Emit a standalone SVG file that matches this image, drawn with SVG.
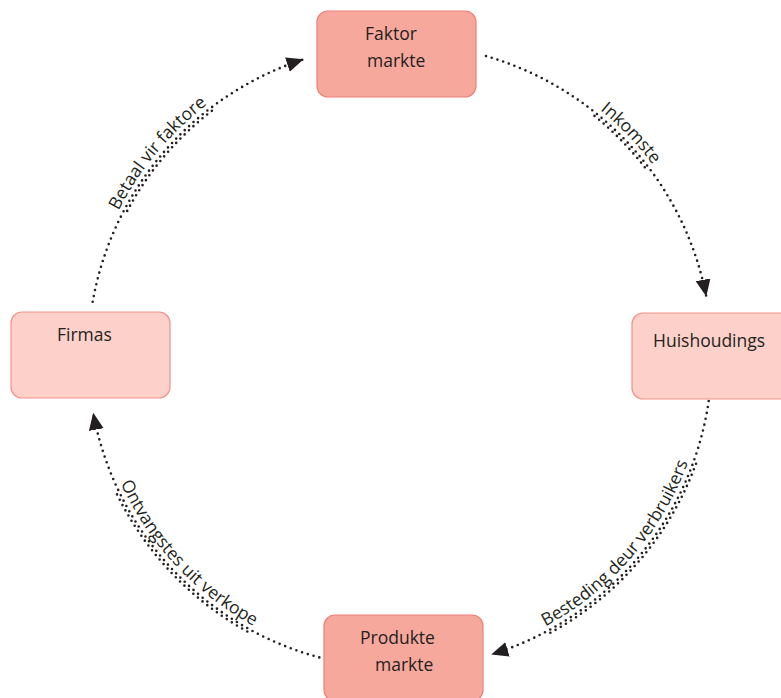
<svg xmlns="http://www.w3.org/2000/svg" width="781" height="698" viewBox="0 0 781 698">
<style>
.node-a{fill:#f7a89c;stroke:#ef8078;stroke-width:1.2}
.node-b{fill:#fdd0c9;stroke:#f2918a;stroke-width:1.2}
.lbl{font-family:"Open Sans","Noto Sans",sans-serif;font-size:17.5px;fill:#231f20}
.dots{fill:none;stroke:#231f20;stroke-width:2.6;stroke-linecap:round;stroke-dasharray:0 6}
.edge-lbl{font-family:"Open Sans","Noto Sans",sans-serif;font-size:17.5px;fill:#231f20}
</style>
<defs>
<marker id="arr" markerUnits="userSpaceOnUse" markerWidth="18" markerHeight="16" refX="17" refY="7.5" orient="auto">
<path d="M0,0 L17,7.5 L0,15 z" fill="#231f20"/>
</marker>
<path id="t1" d="M 93.8 275.0 A 317 317 0 0 1 266.0 68.7"/>
<path id="t2" d="M 539.0 71.1 A 317 317 0 0 1 689.6 227.1"/>
<path id="t3" d="M 499.9 646.3 A 307 307 0 0 0 701.4 414.6"/>
<path id="t4" d="M 103.5 435.5 A 307 307 0 0 0 300.0 646.3"/>
</defs>
<g id="connectors">
<path class="dots" d="M 92.7 301.8 A 312 312 0 0 1 303.6 59.3" marker-end="url(#arr)"/>
<path class="dots" d="M 127.2 210.9 A 309 309 0 0 1 214.0 109.2"/>
<path class="dots" d="M 486.0 56.1 A 312 312 0 0 1 706.3 296.5" marker-end="url(#arr)"/>
<path class="dots" d="M 594.5 115.9 A 309 309 0 0 1 646.8 170.0"/>
<path class="dots" d="M 710.8 383.2 A 312 312 0 0 1 491.2 654.4" marker-end="url(#arr)"/>
<path class="dots" d="M 696.0 463.7 A 315 315 0 0 1 547.9 634.1"/>
<path class="dots" d="M 319.3 657.4 A 312 312 0 0 1 93.2 412.8" marker-end="url(#arr)"/>
<path class="dots" d="M 247.3 631.5 A 315 315 0 0 1 114.5 489.1"/>
<text class="edge-lbl"><textPath href="#t1" startOffset="50%" text-anchor="middle">Betaal vir faktore</textPath></text>
<text class="edge-lbl"><textPath href="#t2" startOffset="50%" text-anchor="middle">Inkomste</textPath></text>
<text class="edge-lbl"><textPath href="#t3" startOffset="50%" text-anchor="middle">Besteding deur verbruikers</textPath></text>
<text class="edge-lbl"><textPath href="#t4" startOffset="50%" text-anchor="middle">Ontvangstes uit verkope</textPath></text>
</g>
<g id="faktor-markte">
<rect class="node-a" x="317" y="11" width="159" height="86" rx="11"/>
<text class="lbl" x="365" y="40">Faktor</text>
<text class="lbl" x="367" y="67">markte</text>
</g>
<g id="huishoudings">
<rect class="node-b" x="632" y="313" width="160" height="86" rx="11"/>
<text class="lbl" x="653" y="347">Huishoudings</text>
</g>
<g id="produkte-markte">
<rect class="node-a" x="324" y="615" width="159" height="86" rx="11"/>
<text class="lbl" x="360" y="644">Produkte</text>
<text class="lbl" x="375" y="671">markte</text>
</g>
<g id="firmas">
<rect class="node-b" x="11" y="312" width="159" height="86" rx="11"/>
<text class="lbl" x="57" y="341">Firmas</text>
</g>
</svg>
